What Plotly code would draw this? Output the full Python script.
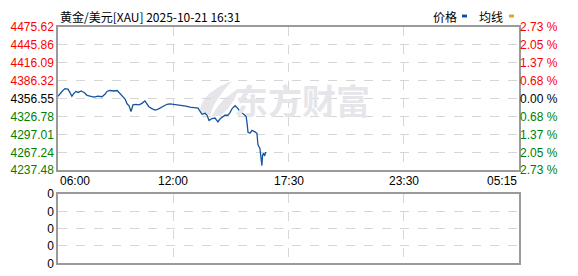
import plotly.graph_objects as go

# ---- data ----
times = ["06:00","06:06","06:12","06:21","06:30","06:36","06:42","06:48","06:54","07:01",
         "07:10","07:19","07:28","07:37","07:49","08:01","08:13","08:22","08:28","08:37",
         "08:49","08:59","09:05","09:11","09:17","09:23","09:29","09:35","09:41","09:47",
         "09:56","10:05","10:14","10:23","10:29","10:35","10:44","10:54","11:03","11:15",
         "11:24","11:30","11:39","11:51","12:03","12:15","12:27","12:39","12:52","13:04",
         "13:10","13:16","13:25","13:31","13:37","13:46","13:55","14:04","14:10","14:16",
         "14:25","14:34","14:40","14:47","14:56","15:02","15:11","15:20","15:29","15:32",
         "15:35","15:41","15:47","15:56","16:02","16:05","16:11","16:14","16:17","16:19",
         "16:22","16:25","16:28","16:31"]
prices = [4360.5,4365.2,4368.4,4373.1,4372.3,4366.8,4360.5,4365.2,4368.4,4366.8,
          4369.2,4366.8,4362.0,4360.5,4358.9,4360.5,4359.7,4363.6,4368.4,4370.0,
          4369.2,4370.0,4366.8,4362.0,4359.7,4355.7,4347.9,4344.7,4335.2,4346.3,
          4347.1,4346.3,4348.7,4352.6,4347.9,4343.1,4340.0,4337.6,4339.2,4343.1,
          4346.3,4347.1,4347.9,4347.1,4346.3,4345.5,4343.9,4342.3,4341.5,4340.8,
          4335.2,4330.5,4332.1,4328.9,4320.3,4323.4,4324.2,4317.9,4322.6,4325.8,
          4328.9,4328.9,4332.9,4340.0,4344.7,4341.5,4335.2,4331.3,4327.4,4316.3,
          4300.5,4299.0,4303.7,4301.3,4299.0,4280.0,4273.7,4259.5,4245.3,4262.7,
          4265.8,4261.1,4266.6,4267.4]
prev_close = 4356.55
price_ticks = [4475.62, 4445.86, 4416.09, 4386.32, 4356.55, 4326.78, 4297.01, 4267.24, 4237.48]
pct_labels = ["2.73 %", "2.05 %", "1.37 %", "0.68 %", "0.00 %", "0.68 %", "1.37 %", "2.05 %", "2.73 %"]
time_labels = ["06:00", "12:00", "17:30", "23:30", "05:15"]
session_minutes = 1395  # 06:00 -> 05:15 next day
vol_ticks = [0, 1, 2, 3, 4]
vol_labels = ["0", "0", "0", "0", "0"]
title_text = "黄金/美元[XAU] 2025-10-21 16:31"

# ---- helpers ----
def to_min(t):
    h, m = map(int, t.split(":"))
    v = h * 60 + m - 360
    return v + 1440 if v < 0 else v

xs = [to_min(t) for t in times]
tick_pos = [session_minutes * i / (len(time_labels) - 1) for i in range(len(time_labels))]

def col(v):
    if v > prev_close + 1e-6:
        return "#ff0000"
    if v < prev_close - 1e-6:
        return "#008000"
    return "#000000"

left_text = [f"<span style='color:{col(v)}'>{v:.2f}</span>" for v in price_ticks]
right_text = [f"<span style='color:{col(v)}'>{t}</span>" for v, t in zip(price_ticks, pct_labels)]

FONT = "Liberation Sans, Arial, sans-serif"
CJK = "Noto Sans CJK SC, sans-serif"
GRID = "#d6d6d6"
BORDER = "#9a9a9a"

fig = go.Figure()
fig.add_trace(go.Scatter(x=xs, y=prices, mode="lines",
                         line=dict(color="#1554a0", width=1.3),
                         xaxis="x", yaxis="y", hoverinfo="skip", showlegend=False))
fig.add_trace(go.Scatter(x=[xs[0]], y=[prices[0]], mode="markers", marker=dict(opacity=0),
                         xaxis="x", yaxis="y2", hoverinfo="skip", showlegend=False))
fig.add_trace(go.Scatter(x=[0], y=[0], mode="markers", marker=dict(opacity=0),
                         xaxis="x2", yaxis="y3", hoverinfo="skip", showlegend=False))

W, H = 578, 276
px = lambda v: v / W
py = lambda v: (H - v) / H

common_x = dict(range=[0, session_minutes], tickvals=tick_pos, showticklabels=False,
                showgrid=True, gridcolor=GRID, griddash="dash", gridwidth=1,
                showline=True, linecolor=BORDER, linewidth=1.5, mirror=True,
                zeroline=False, ticks="", fixedrange=True)

fig.update_layout(
    width=W, height=H,
    margin=dict(l=0, r=0, t=0, b=0),
    paper_bgcolor="white", plot_bgcolor="white",
    font=dict(family=FONT, size=12, color="#000"),
    xaxis=dict(domain=[px(58), px(519)], anchor="y", **common_x),
    yaxis=dict(domain=[py(172), py(21)], range=[price_ticks[-1], price_ticks[0]],
               tickvals=price_ticks, ticktext=left_text,
               showgrid=True, gridcolor=GRID, griddash="dash",
               showline=True, linecolor=BORDER, linewidth=1.5, mirror=True,
               zeroline=False, ticks="", tickfont=dict(family=FONT, size=12)),
    yaxis2=dict(overlaying="y", side="right", anchor="x", range=[price_ticks[-1], price_ticks[0]],
                tickvals=price_ticks, ticktext=right_text, showgrid=False, zeroline=False,
                ticks="", tickfont=dict(family=FONT, size=12)),
    xaxis2=dict(domain=[px(58), px(519)], anchor="y3", **common_x),
    yaxis3=dict(domain=[py(270), py(197)], range=[0, 4], tickvals=vol_ticks, ticktext=vol_labels,
                showgrid=True, gridcolor=GRID, griddash="dash",
                showline=True, linecolor=BORDER, linewidth=1.5, mirror=True,
                zeroline=False, ticks="", tickfont=dict(family=FONT, size=12, color="#000")),
)

# time labels under main chart
for i, (tp, lab) in enumerate(zip(tick_pos, time_labels)):
    anchor = "left" if i == 0 else ("right" if i == len(tick_pos) - 1 else "center")
    fig.add_annotation(x=tp, y=py(183), xref="x", yref="paper", text=lab, showarrow=False,
                       xanchor=anchor, yanchor="middle", font=dict(family=FONT, size=12, color="#000"))

# title
fig.add_annotation(x=px(58), y=py(10), xref="paper", yref="paper", text=title_text,
                   showarrow=False, xanchor="left", yanchor="middle",
                   font=dict(family=CJK, size=12, color="#000"))
# legend
fig.add_annotation(x=px(431), y=py(10), xref="paper", yref="paper", text="价格",
                   showarrow=False, xanchor="left", yanchor="middle",
                   font=dict(family=CJK, size=12, color="#000"))
fig.add_annotation(x=px(477), y=py(10), xref="paper", yref="paper", text="均线",
                   showarrow=False, xanchor="left", yanchor="middle",
                   font=dict(family=CJK, size=12, color="#000"))
fig.add_shape(type="rect", xref="paper", yref="paper", x0=px(462), x1=px(467),
              y0=py(11), y1=py(8), fillcolor="#0a4fa0", line=dict(width=0))
fig.add_shape(type="rect", xref="paper", yref="paper", x0=px(509), x1=px(514),
              y0=py(11), y1=py(8), fillcolor="#e0a020", line=dict(width=0))

# watermark
fig.add_annotation(x=px(302), y=py(97), xref="paper", yref="paper", text="<b>东方财富</b>",
                   showarrow=False, xanchor="center", yanchor="middle",
                   font=dict(family=CJK, size=34, color="#e6e6ea"))
logo = ("M {a},{b} C {c},{d} {e},{f} {g},{h} L {i},{j} C {k},{l} {m},{n} {a},{b} Z")
def P(x, y):
    return f"{px(x):.4f},{py(y):.4f}"
path1 = f"M {P(200,112)} C {P(200,95)} {P(215,85)} {P(232,78)} C {P(222,90)} {P(214,100)} {P(210,114)} Z"
path2 = f"M {P(212,115)} C {P(218,100)} {P(230,92)} {P(238,86)} C {P(236,98)} {P(228,108)} {P(220,115)} Z"
for p in (path1, path2):
    fig.add_shape(type="path", xref="paper", yref="paper", path=p,
                  fillcolor="#e6e6ea", line=dict(width=0), layer="below")

fig.write_html("out.html")
